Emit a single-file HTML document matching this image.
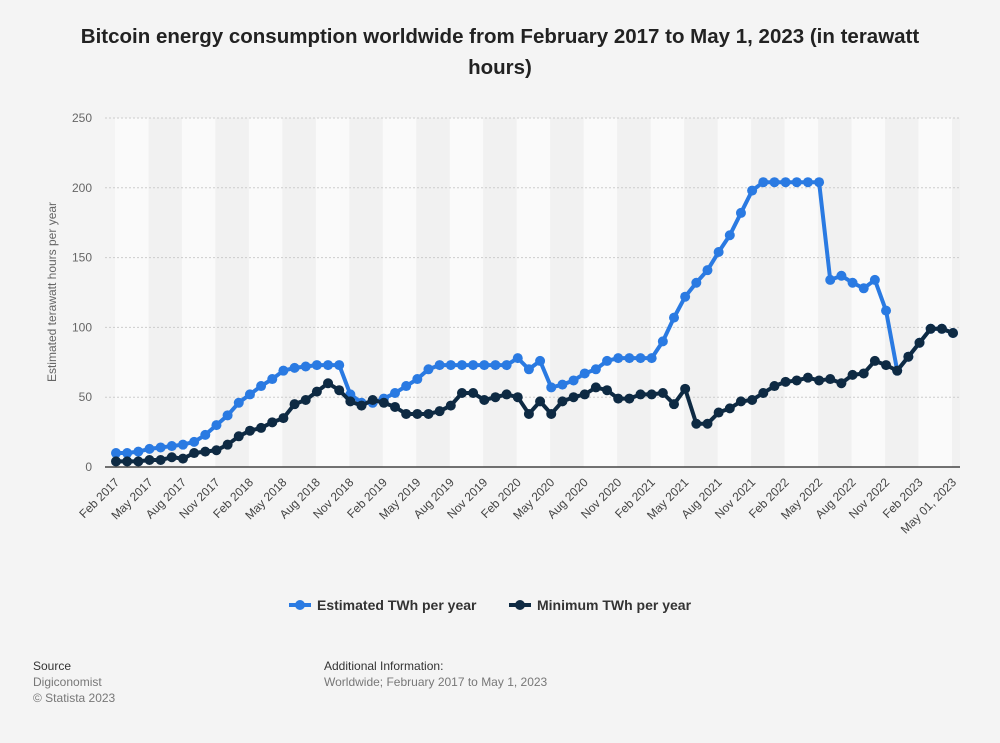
<!DOCTYPE html>
<html><head><meta charset="utf-8"><style>
body{margin:0;background:#f4f4f4;font-family:"Liberation Sans",Arial,sans-serif;}
#wrap{position:relative;width:1000px;height:743px;overflow:hidden;}
#title{position:absolute;left:20px;right:20px;top:21px;text-align:center;font-size:20.5px;font-weight:bold;color:#222;line-height:31px;}
.src{position:absolute;font-size:12px;color:#333;}
.src span{color:#777;}
</style></head><body>
<div id="wrap">
<div id="title">Bitcoin energy consumption worldwide from February 2017 to May 1, 2023 (in terawatt<br>hours)</div>
<svg id="chart" width="1000" height="743" style="position:absolute;left:0;top:0"></svg>
<div class="src" style="left:33px;top:658px;line-height:16px">Source<br><span>Digiconomist</span><br><span>© Statista 2023</span></div>
<div class="src" style="left:324px;top:658px;line-height:16px">Additional Information:<br><span>Worldwide; February 2017 to May 1, 2023</span></div>
</div>
<script>
const months=["Feb","Mar","Apr","May","Jun","Jul","Aug","Sep","Oct","Nov","Dec","Jan"];
const estimated=[10,10,11,13,14,15,16,18,23,30,37,46,52,58,63,69,71,72,73,73,73,52,46,46,49,53,58,63,70,73,73,73,73,73,73,73,78,70,76,57,59,62,67,70,76,78,78,78,78,90,107,122,132,141,154,166,182,198,204,204,204,204,204,204,134,137,132,128,134,112,69,79,89,99,99,96];
const minimum=[4,4,4,5,5,7,6,10,11,12,16,22,26,28,32,35,45,48,54,60,55,47,44,48,46,43,38,38,38,40,44,53,53,48,50,52,50,38,47,38,47,50,52,57,55,49,49,52,52,53,45,56,31,31,39,42,47,48,53,58,61,62,64,62,63,60,66,67,76,73,69,79,89,99,99,96];
const yTicks=[0,50,100,150,200,250];
const NS="http://www.w3.org/2000/svg";
const svg=document.getElementById('chart');
const X0=116,DX=11.16,Y0=467,YS=349/250,XR=960;
const xs=i=>X0+DX*i, ys=v=>Y0-v*YS;
function mk(t,a){const e=document.createElementNS(NS,t);for(const k in a)e.setAttribute(k,a[k]);svg.appendChild(e);return e;}
const n=minimum.length;
for(let b=0;b*3<n;b++){
  const bx=xs(b*3)-1, bw=Math.min(DX*3, XR-bx);
  if(bw<=0)continue;
  const r=mk('rect',{x:bx,y:ys(250),width:bw,height:Y0-ys(250),fill:b%2?'#f1f1f1':'#fafafa'});
  
  
}
yTicks.forEach(t=>{
  if(t>0){const g=mk('line',{x1:105,x2:XR,y1:ys(t),y2:ys(t),stroke:'#ccc','stroke-dasharray':'2,2'});
  
  }
  const l=mk('text',{x:92,y:ys(t)+4,'text-anchor':'end','font-size':12,fill:'#666'});l.textContent=t;
  
  
});
const ax=mk('line',{x1:105,x2:XR,y1:Y0,y2:Y0,stroke:'#222','stroke-width':1.2});


const yt=mk('text',{x:0,y:0,transform:'translate(56,292) rotate(-90)','text-anchor':'middle','font-size':12,fill:'#666'});
yt.textContent='Estimated terawatt hours per year';


for(let i=0;i<75;i+=3){
  const lab=months[i%12]+' '+(2017+Math.floor((i+1)/12));
  const t=mk('text',{x:0,y:0,transform:`translate(${xs(i)+4},${Y0+16}) rotate(-45)`,'text-anchor':'end','font-size':12,fill:'#444'});
  t.textContent=lab;
  
  
}
const tl=mk('text',{x:0,y:0,transform:`translate(${xs(n-1)+4},${Y0+16}) rotate(-45)`,'text-anchor':'end','font-size':12,fill:'#444'});
tl.textContent='May 01, 2023';


function series(arr,col,name){
  const p=mk('polyline',{points:arr.map((v,i)=>xs(i)+','+ys(v)).join(' '),fill:'none',stroke:col,'stroke-width':4,'stroke-linejoin':'round'});
  
  
  arr.forEach((v,i)=>{const c=mk('circle',{cx:xs(i),cy:ys(v),r:5,fill:col});
    
    });
}
series(estimated,'#2a7ae2','estimated');
series(minimum,'#0e2a43','minimum');
function legend(x,col,txt,name){
  const g=mk('line',{x1:x,x2:x+22,y1:605,y2:605,stroke:col,'stroke-width':4});
  
  
  const c=mk('circle',{cx:x+11,cy:605,r:5,fill:col});
  
  
  const t=mk('text',{x:x+28,y:610,'font-size':14,'font-weight':'bold',fill:'#333'});t.textContent=txt;
  
  
}
legend(289,'#2a7ae2','Estimated TWh per year','estimated');
legend(509,'#0e2a43','Minimum TWh per year','minimum');
</script>
</body></html>
